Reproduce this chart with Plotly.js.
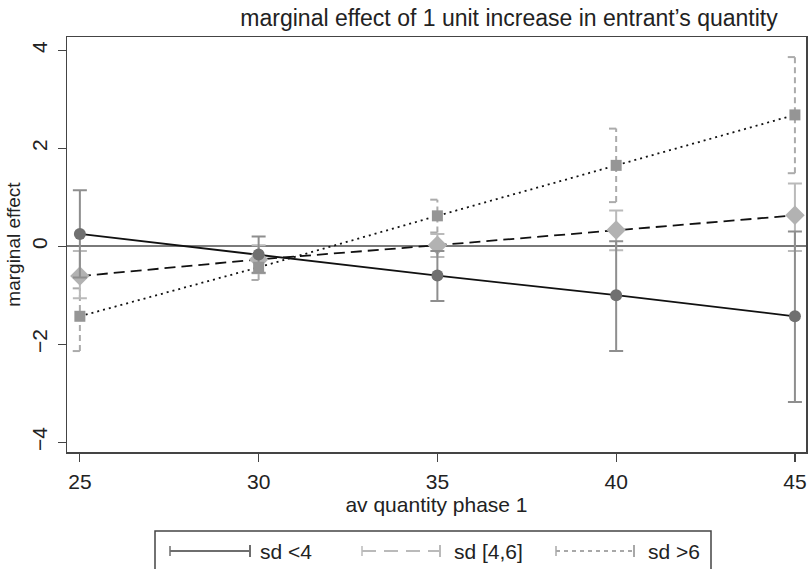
<!DOCTYPE html>
<html>
<head>
<meta charset="utf-8">
<script src="https://cdn.plot.ly/plotly-3.0.1.min.js"></script>
<style>html,body{margin:0;padding:0;background:#fff;}#chart{width:808px;height:569px;}</style>
</head>
<body>
<div id="chart"></div>
<script>
const xVals = [25, 30, 35, 40, 45];

const sdLow = [0.25, -0.17, -0.60, -1.00, -1.43];
const sdLowLo = [-0.64, -0.54, -1.12, -2.14, -3.18];
const sdLowHi = [1.14, 0.20, -0.10, 0.10, 0.30];

const sdMid = [-0.61, -0.27, 0.02, 0.33, 0.63];
const sdMidLo = [-1.06, -0.55, -0.22, -0.08, -0.10];
const sdMidHi = [-0.10, 0.02, 0.25, 0.73, 1.28];

const sdHigh = [-1.43, -0.43, 0.62, 1.65, 2.68];
const sdHighLo = [-2.14, -0.69, 0.28, 0.90, 1.49];
const sdHighHi = [-0.86, -0.17, 0.95, 2.40, 3.86];

const seriesNames = ["sd <4", "sd [4,6]", "sd >6"];
const xTicks = [25, 30, 35, 40, 45];
const yTicks = [-4, -2, 0, 2, 4];

const FONT = 'Liberation Sans, Arial, Helvetica, sans-serif';
const TXT = '#222';

function errs(y, lo, hi) {
  return {
    type: 'data', symmetric: false,
    array: y.map((v, i) => hi[i] - v),
    arrayminus: y.map((v, i) => v - lo[i])
  };
}

const traces = [];

// fitted lines (beneath markers)
const lineSpecs = [[sdLow, 'solid'], [sdMid, '11px,6px'], [sdHigh, '2px,4px']];
lineSpecs.forEach(([y, dash]) => {
  traces.push({x: xVals, y: y, type: 'scatter', mode: 'lines', showlegend: false,
    line: {color: '#111', width: 1.8, dash: dash}, hoverinfo: 'skip'});
});

// sd >6 dashed confidence bars built from the data arrays
const barX = [], barY = [], capX = [], capY = [];
xVals.forEach((x, i) => {
  barX.push(x, x, null); barY.push(sdHighLo[i], sdHighHi[i], null);
  capX.push(x - 0.2, x, null, x - 0.2, x, null);
  capY.push(sdHighLo[i], sdHighLo[i], null, sdHighHi[i], sdHighHi[i], null);
});
traces.push({x: barX, y: barY, type: 'scatter', mode: 'lines', showlegend: false,
  line: {color: '#ababab', width: 2, dash: '6px,4px'}, hoverinfo: 'skip'});
traces.push({x: capX, y: capY, type: 'scatter', mode: 'lines', showlegend: false,
  line: {color: '#ababab', width: 2}, hoverinfo: 'skip'});

// sd [4,6] bars + diamonds
traces.push({x: xVals, y: sdMid, type: 'scatter', mode: 'markers', showlegend: false,
  marker: {symbol: 'diamond', size: 15, color: '#b2b2b2'},
  error_y: Object.assign(errs(sdMid, sdMidLo, sdMidHi), {color: '#bababa', thickness: 2, width: 7}),
  hoverinfo: 'skip'});

// sd <4 bars + circles
traces.push({x: xVals, y: sdLow, type: 'scatter', mode: 'markers', showlegend: false,
  marker: {symbol: 'circle', size: 12, color: '#707070'},
  error_y: Object.assign(errs(sdLow, sdLowLo, sdLowHi), {color: '#8e8e8e', thickness: 2, width: 7}),
  hoverinfo: 'skip'});

// sd >6 squares
traces.push({x: xVals, y: sdHigh, type: 'scatter', mode: 'markers', showlegend: false,
  marker: {symbol: 'square', size: 11, color: '#959595'}, hoverinfo: 'skip'});

// ---- manual legend (styling only, in paper coordinates) ----
const L = 67, W = 739, B = 452, H = 415;
const px = v => (v - L) / W;
const py = v => (B - v) / H;
const shapes = [];
const annotations = [];
shapes.push({type: 'rect', xref: 'paper', yref: 'paper', x0: px(155), x1: px(711), y0: py(531), y1: py(600),
  line: {color: '#444', width: 1.5}, fillcolor: '#fff', layer: 'above'});
const legItems = [
  {x0: 170, x1: 250, tx: 258, color: '#6e6e6e', dash: 'solid'},
  {x0: 362, x1: 440, tx: 452, color: '#bababa', dash: '14px,8px'},
  {x0: 556, x1: 634, tx: 646, color: '#a8a8a8', dash: '4px,4px'}
];
const legY = 551;
legItems.forEach((it, i) => {
  shapes.push({type: 'line', xref: 'paper', yref: 'paper', x0: px(it.x0), x1: px(it.x1), y0: py(legY), y1: py(legY),
    line: {color: it.color, width: 2, dash: it.dash}, layer: 'above'});
  shapes.push({type: 'line', xref: 'paper', yref: 'paper', x0: px(it.x1), x1: px(it.x1), y0: py(legY - 6), y1: py(legY + 6),
    line: {color: it.color, width: 2}, layer: 'above'});
  shapes.push({type: 'line', xref: 'paper', yref: 'paper', x0: px(it.x0), x1: px(it.x0), y0: py(legY - 5), y1: py(legY + 5),
    line: {color: it.color, width: 1.5}, layer: 'above'});
  annotations.push({xref: 'paper', yref: 'paper', x: px(it.tx), y: py(legY), xanchor: 'left', yanchor: 'middle',
    text: seriesNames[i], showarrow: false, font: {family: FONT, size: 21, color: TXT}});
});

const layout = {
  width: 808, height: 569,
  margin: {l: 67, r: 2, t: 37, b: 117},
  paper_bgcolor: '#fff', plot_bgcolor: '#fff',
  font: {family: FONT, size: 21, color: TXT},
  title: {text: "marginal effect of 1 unit increase in entrant’s quantity", x: 0.63, xanchor: 'center',
    yref: 'container', y: 0.982, yanchor: 'top', font: {size: 23, color: TXT}},
  xaxis: {
    range: [24.64, 45.31], tickvals: xTicks, ticktext: xTicks.map(String),
    ticks: 'outside', ticklen: 8, tickcolor: '#444', tickwidth: 1.2, showgrid: false, zeroline: false,
    showline: true, linecolor: '#444', linewidth: 1.5, mirror: true, ticklabelstandoff: 2,
    tickfont: {size: 21},
    title: {text: 'av quantity phase 1', font: {size: 21}, standoff: 4}
  },
  yaxis: {
    range: [-4.2, 4.27], tickvals: yTicks, ticktext: yTicks.map(v => v < 0 ? '\u2212' + Math.abs(v) : String(v)),
    ticks: 'outside', ticklen: 8, tickcolor: '#444', tickwidth: 1.2, tickangle: -90, showgrid: false,
    zeroline: true, zerolinecolor: '#7a7a7a', zerolinewidth: 2, ticklabelstandoff: 2,
    showline: true, linecolor: '#444', linewidth: 1.5, mirror: true,
    tickfont: {size: 21},
    title: {text: 'marginal effect', font: {size: 19}, standoff: 2}
  },
  shapes: shapes,
  annotations: annotations,
  showlegend: false
};

Plotly.newPlot('chart', traces, layout, {displayModeBar: false, staticPlot: true});
</script>
</body>
</html>
